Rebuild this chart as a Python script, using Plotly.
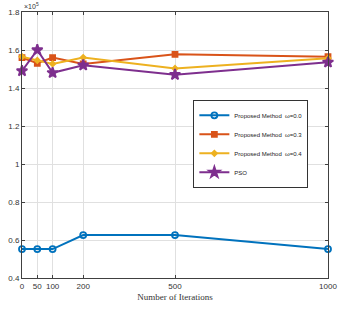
import plotly.graph_objects as go

iterations = [0, 50, 100, 200, 500, 1000]
pm_w00 = [0.552, 0.552, 0.552, 0.626, 0.626, 0.552]
pm_w03 = [1.560, 1.530, 1.560, 1.527, 1.577, 1.565]
pm_w04 = [1.565, 1.545, 1.527, 1.560, 1.503, 1.557]
pso = [1.490, 1.600, 1.480, 1.520, 1.470, 1.535]

x_ticks = [0, 50, 100, 200, 500, 1000]
y_ticks = [0.4, 0.6, 0.8, 1.0, 1.2, 1.4, 1.6, 1.8]
y_tick_text = ["0.4", "0.6", "0.8", "1", "1.2", "1.4", "1.6", "1.8"]

series = [
    ("Proposed Method  ω=0.0", pm_w00, "#0072BD", "circle-open", 6),
    ("Proposed Method  ω=0.3", pm_w03, "#D95319", "square", 5),
    ("Proposed Method  ω=0.4", pm_w04, "#EDB120", "diamond", 4),
    ("PSO", pso, "#7E2F8E", "star", 8),
]

fig = go.Figure()
for name, vals, color, sym, size in series:
    fig.add_trace(go.Scatter(
        x=iterations, y=vals, name=name, mode="lines+markers",
        line=dict(color=color, width=2),
        marker=dict(symbol=sym, size=size, color=color,
                    line=dict(color=color, width=1.8)),
        cliponaxis=False,
    ))

axis_common = dict(
    showline=True, linecolor="#404040", linewidth=1, mirror="ticks",
    ticks="inside", ticklen=3, tickcolor="#404040",
    showgrid=True, gridcolor="#E0E0E0", gridwidth=1, zeroline=False,
    ticklabeloverflow="allow",
    tickfont=dict(family="Liberation Sans Narrow, Liberation Sans, Arial", size=8, color="#333"),
)

fig.update_layout(
    width=345, height=314,
    margin=dict(l=15, r=8, t=12, b=36),
    paper_bgcolor="white", plot_bgcolor="white",
    showlegend=True,
    legend=dict(
        x=0.56, y=0.67, xanchor="left", yanchor="top",
        bgcolor="white", bordercolor="#333", borderwidth=1,
        font=dict(family="Liberation Sans Narrow, Liberation Sans, Arial", size=6, color="#222"),
        tracegroupgap=0, itemwidth=30,
    ),
    xaxis=dict(range=[0, 1000], tickvals=x_ticks, ticktext=[str(v) for v in x_ticks],
               title=dict(text="Number of Iterations",
                          font=dict(family="Liberation Serif, Times New Roman", size=9, color="#333"),
                          standoff=4),
               **axis_common),
    yaxis=dict(range=[0.4, 1.8], tickvals=y_ticks, ticktext=y_tick_text, **axis_common),
    annotations=[dict(
        text="×10<sup>5</sup>", xref="paper", yref="paper", x=0.0, y=1.0,
        xanchor="left", yanchor="bottom", showarrow=False,
        font=dict(family="Liberation Sans Narrow, Liberation Sans, Arial", size=7, color="#333"),
    )],
)

fig.write_html("out.html")
